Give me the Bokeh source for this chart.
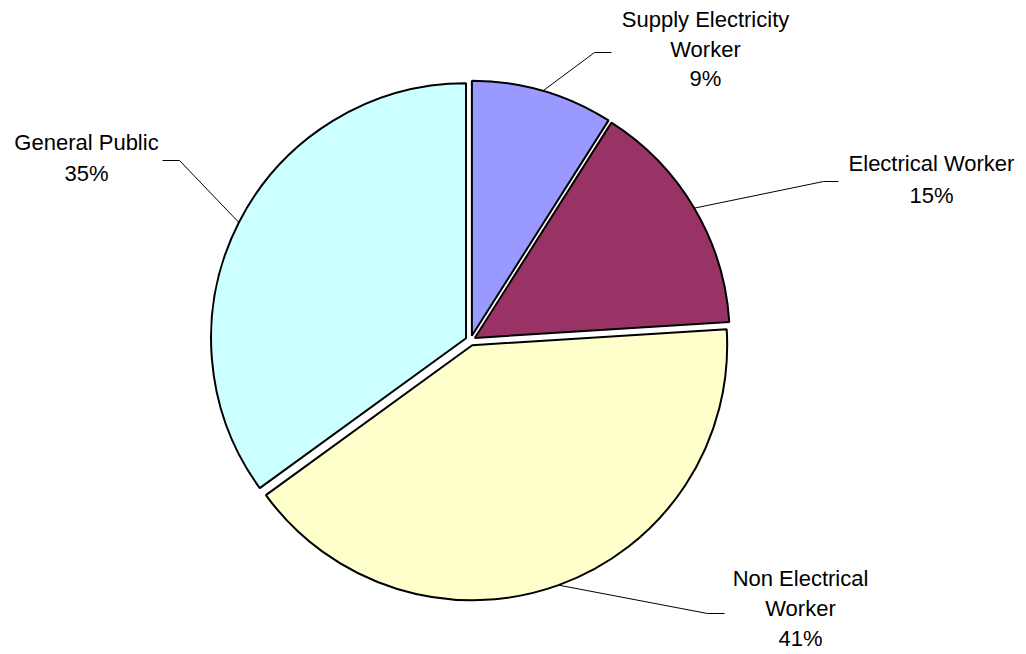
import numpy as np
from bokeh.plotting import figure
from bokeh.models import Range1d, ColumnDataSource
from bokeh.embed import file_html
from bokeh.resources import INLINE
from bokeh.core.properties import value

# ---- data ----
categories = ["Supply Electricity Worker", "Electrical Worker", "Non Electrical Worker", "General Public"]
label_names = [["Supply Electricity", "Worker"], ["Electrical Worker"], ["Non Electrical", "Worker"], ["General Public"]]
shares = [9, 15, 41, 35]
colors = ["#9999FF", "#993366", "#FFFFCC", "#CCFFFF"]

# ---- layout (pixel space, y down) ----
W, H = 1026, 654
CX, CY = 470, 340
R = 255
EXPLODE = 5
TEXT_SHIFT = -9
# label anchor: center x, first baseline y, line spacing
label_pos = [(705, 28, 29.5), (931, 172, 32), (800, 587, 30), (86, 151, 31)]
# leader elbow and end (pixel)
leader_elbow = [(594, 52), (823, 181), (707, 613), (179, 160)]
leader_end = [(611, 52), (838, 181), (724, 613), (162, 160)]

def yd(py):
    return H - py

p = figure(width=W, height=H, x_range=Range1d(0, W), y_range=Range1d(0, H),
           output_backend="svg", toolbar_location=None,
           x_axis_location=None, y_axis_location=None, min_border=0)
p.grid.visible = False
p.outline_line_color = None
p.background_fill_color = "white"
p.border_fill_color = "white"

total = float(sum(shares))
cum = np.cumsum([0] + shares) / total * 2 * np.pi  # clockwise from top

wx, wy, sa, ea, mids = [], [], [], [], []
for i, s in enumerate(shares):
    a0, a1 = cum[i], cum[i + 1]
    mid = (a0 + a1) / 2
    mids.append(mid)
    ox = EXPLODE * np.sin(mid)
    oy = EXPLODE * np.cos(mid)
    wx.append(CX + ox)
    wy.append(yd(CY) + oy)
    sa.append(np.pi / 2 - a1)
    ea.append(np.pi / 2 - a0)

src = ColumnDataSource(dict(x=wx, y=wy, sa=sa, ea=ea, color=colors, cat=categories))
p.wedge(x="x", y="y", radius=R, start_angle="sa", end_angle="ea",
        fill_color="color", line_color="black", line_width=2, source=src)

# leader lines
for i in range(len(shares)):
    mid = mids[i]
    sx = CX + (R + EXPLODE) * np.sin(mid)
    sy = yd(CY) + (R + EXPLODE) * np.cos(mid)
    ex, ey = leader_elbow[i]
    fx, fy = leader_end[i]
    p.line([sx, ex], [sy, yd(ey)], line_color="black", line_width=1)
    p.line([ex, fx], [yd(ey), yd(fy)], line_color="black", line_width=1)

# labels
tx, ty, tt = [], [], []
for i, s in enumerate(shares):
    lines = label_names[i] + [f"{s}%"]
    cx, by, sp = label_pos[i]
    for k, t in enumerate(lines):
        tx.append(cx)
        ty.append(yd(by + k * sp + TEXT_SHIFT))
        tt.append(t)
p.text(x=tx, y=ty, text=tt, text_align="center", text_baseline="alphabetic",
       text_font=value("Liberation Sans"), text_font_size="22px", text_color="black")

open("out.html", "w").write(file_html(p, INLINE))
